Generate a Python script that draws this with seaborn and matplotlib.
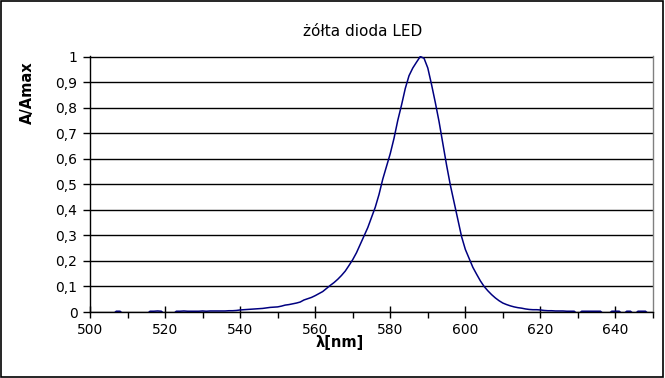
import numpy as np
import pandas as pd
import seaborn as sns
import matplotlib
matplotlib.use("Agg")
import matplotlib.pyplot as plt
from matplotlib.patches import Rectangle
from matplotlib.ticker import MultipleLocator, FuncFormatter

# ================= dane =================
# długość fali [nm], krok 1 nm
wavelength = list(range(505, 651))

# A/Amax (wartości ujemne = poza skalą, ucięte na osi)
intensity = [
    -0.01, -0.01, 0.003, 0.003, -0.01, -0.01, -0.01, -0.01, -0.01, -0.01,   # 505-514
    -0.01, 0.003, 0.003, 0.004, 0.003, -0.01, -0.01, -0.01, 0.003, 0.003,   # 515-524
    0.004, 0.003, 0.003, 0.003, 0.003, 0.004, 0.003, 0.004, 0.004, 0.004,   # 525-534
    0.004, 0.004, 0.005, 0.005, 0.006, 0.008, 0.009, 0.010, 0.011, 0.012,   # 535-544
    0.013, 0.014, 0.016, 0.018, 0.019, 0.020, 0.023, 0.027, 0.029, 0.032,   # 545-554
    0.035, 0.039, 0.047, 0.052, 0.057, 0.064, 0.072, 0.080, 0.092, 0.104,   # 555-564
    0.115, 0.128, 0.143, 0.160, 0.182, 0.205, 0.232, 0.265, 0.298, 0.330,   # 565-574
    0.370, 0.410, 0.460, 0.520, 0.570, 0.620, 0.680, 0.750, 0.810, 0.875,   # 575-584
    0.925, 0.955, 0.978, 1.000, 0.993, 0.955, 0.890, 0.820, 0.745, 0.660,   # 585-594
    0.575, 0.497, 0.430, 0.365, 0.295, 0.245, 0.210, 0.175, 0.148, 0.122,   # 595-604
    0.100, 0.083, 0.068, 0.055, 0.044, 0.035, 0.029, 0.024, 0.020, 0.017,   # 605-614
    0.015, 0.012, 0.010, 0.009, 0.009, 0.008, 0.006, 0.005, 0.005, 0.004,   # 615-624
    0.004, 0.004, 0.003, 0.003, 0.003, -0.01, 0.003, 0.003, 0.003, 0.003,   # 625-634
    0.003, 0.003, -0.01, -0.01, 0.003, 0.003, 0.003, -0.01, 0.003, 0.003,   # 635-644
    -0.01, 0.003, 0.003, 0.003, -0.01, -0.01,                               # 645-650
]

title = "żółta dioda LED"
x_label = "λ[nm]"
y_label = "A/Amax"

df = pd.DataFrame({"nm": wavelength, "A": intensity})

# ================= wykres =================
sns.set_style("white")
plt.rcParams['font.family'] = ['DejaVu Sans']
plt.rcParams['text.color'] = 'black'
plt.rcParams['xtick.color'] = 'black'
plt.rcParams['ytick.color'] = 'black'
plt.rcParams['axes.labelcolor'] = 'black'

fig = plt.figure(figsize=(6.65, 3.78), dpi=100)
ax = fig.add_axes([90 / 665, 66 / 378, 563 / 665, 256 / 378])

sns.lineplot(data=df, x="nm", y="A", ax=ax, color="#000080", linewidth=1.1)

ax.set_xlim(500, 650)
ax.set_ylim(0, 1.002)

# siatka pozioma co 0,1
ax.yaxis.set_major_locator(MultipleLocator(0.1))
ax.yaxis.grid(True, color="black", linewidth=1.0)
ax.xaxis.grid(False)
ax.set_axisbelow(True)

ax.xaxis.set_major_locator(MultipleLocator(20))
ax.xaxis.set_minor_locator(MultipleLocator(10))
ax.tick_params(axis="x", which="major", direction="inout", length=8, width=1,
               labelsize=10, pad=4, bottom=True, colors="black")
ax.tick_params(axis="x", which="minor", direction="out", length=4, width=1,
               bottom=True, colors="black")
ax.tick_params(axis="y", which="major", direction="out", length=5, width=1,
               labelsize=10, pad=4, left=True, colors="black")

ax.yaxis.set_major_formatter(FuncFormatter(
    lambda v, _: "0" if abs(v) < 1e-9 else ("1" if abs(v - 1) < 1e-9 else f"{v:.1f}".replace(".", ","))))

for name, spine in ax.spines.items():
    spine.set_linewidth(1.0)
ax.spines["top"].set_visible(False)
ax.spines["left"].set_color("black")
ax.spines["bottom"].set_color("black")
ax.spines["right"].set_color("#808080")

ax.set_xlabel("")
ax.set_ylabel("")

fig.text(363 / 665, 1 - 31 / 378, title, ha="center", va="center",
         fontsize=11, color="black")
fig.text(340 / 665, 1 - 343 / 378, x_label, ha="center", va="center",
         fontsize=10.5, fontweight="bold", color="black")
fig.text(27 / 665, 1 - 93 / 378, y_label, ha="center", va="center",
         fontsize=10.5, fontweight="bold", rotation=90, color="black")

# ramka wokół całego obrazka
fig.patches.append(Rectangle((0.5 / 665, 1.5 / 378), 662 / 665, 376 / 378,
                             transform=fig.transFigure, fill=False,
                             edgecolor="black", linewidth=1.2))

fig.savefig("out.png", dpi=100)
